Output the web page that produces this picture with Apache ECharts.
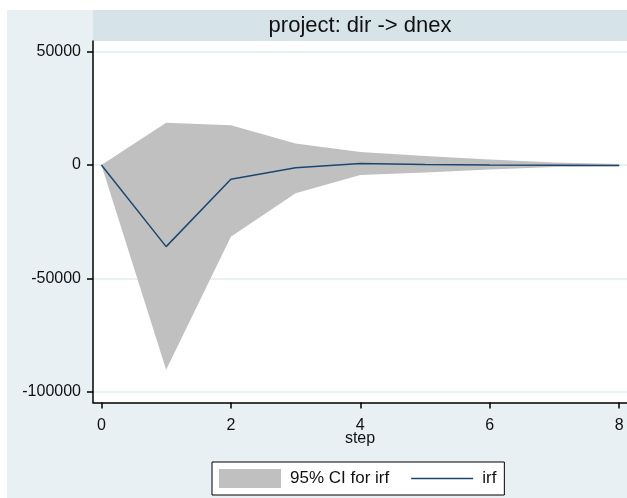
<!DOCTYPE html>
<html>
<head>
<meta charset="utf-8">
<script src="https://cdn.jsdelivr.net/npm/echarts@6/dist/echarts.min.js"></script>
<style>
    html, body { margin: 0; padding: 0; background: #fff; }
    #chart { width: 627px; height: 498px; }
</style>
</head>
<body>
<div id="chart"></div>
<script>
// irf 图数据 (dir -> dnex)
const steps = [0, 1, 2, 3, 4, 5, 6, 7, 8]
const irf = [0, -36000, -6300, -1200, 700, 200, 0, -100, -200]
const ciUpper = [0, 18600, 17500, 9500, 5700, 4000, 2400, 1100, 400]
const ciLower = [0, -90300, -31600, -12500, -4400, -3300, -2000, -900, -500]
const yTicks = [-100000, -50000, 0, 50000]
const xTicks = [0, 2, 4, 6, 8]

const font = 'Liberation Sans, Arial, sans-serif'
const chart = echarts.init(document.getElementById('chart'))

const option = {
    backgroundColor: '#fff',
    animation: false,
    graphic: [
        { type: 'rect', z: -10, shape: { x: 7, y: 10, width: 620, height: 488 }, style: { fill: '#e8f0f3' } },
        { type: 'rect', z: -9, shape: { x: 93, y: 10, width: 534, height: 31 }, style: { fill: '#d6e4ea' } },
        {
            type: 'text', z: 10, x: 360, y: 26,
            style: { text: 'project: dir -> dnex', font: '22px ' + font, fill: '#111', align: 'center', verticalAlign: 'middle' }
        }
    ],
    grid: {
        left: 93,
        top: 41,
        right: 0,
        bottom: 95.5,
        show: true,
        backgroundColor: '#fff',
        borderWidth: 0
    },
    legend: {
        left: 212,
        top: 462,
        padding: [7, 8, 7, 7],
        backgroundColor: '#fff',
        borderColor: '#000',
        borderWidth: 1,
        borderRadius: 0,
        itemWidth: 62,
        itemHeight: 19,
        itemGap: 22,
        symbolKeepAspect: true,
        textStyle: { fontFamily: font, fontSize: 17, color: '#111', padding: [0, 0, 0, 4] },
        data: [
            { name: '95% CI for irf', icon: 'rect', itemStyle: { color: '#c0c0c0' } },
            { name: 'irf', icon: 'path://M0,0L62,0L62,1.6L0,1.6Z', itemStyle: { color: '#1a476f' } }
        ]
    },
    xAxis: {
        type: 'value',
        min: -0.13,
        max: 8.12,
        name: 'step',
        nameLocation: 'middle',
        nameGap: 28,
        nameMoveOverlap: false,
        nameTextStyle: { fontFamily: font, fontSize: 16, color: '#111' },
        axisLine: { show: true, onZero: false, lineStyle: { color: '#000', width: 1.5 } },
        axisTick: { show: true, length: 6, customValues: xTicks, lineStyle: { color: '#000', width: 1.5 } },
        axisLabel: { customValues: xTicks, fontFamily: font, fontSize: 16, color: '#111', margin: 15 },
        splitLine: { show: false }
    },
    yAxis: {
        type: 'value',
        min: -104770,
        max: 54700,
        axisLine: { show: true, onZero: false, lineStyle: { color: '#000', width: 1.5 } },
        axisTick: { show: true, length: 6, customValues: yTicks, lineStyle: { color: '#000', width: 1.5 } },
        axisLabel: {
            customValues: yTicks,
            fontFamily: font,
            fontSize: 16,
            color: '#111',
            margin: 12,
            formatter: v => String(v)
        },
        splitLine: { show: false }
    },
    series: [
        {
            // 网格线
            name: 'grid',
            type: 'line',
            data: [],
            z: 0,
            silent: true,
            markLine: {
                z: 0,
                silent: true,
                symbol: 'none',
                label: { show: false },
                lineStyle: { color: '#e3edf2', width: 1.5, type: 'solid' },
                data: yTicks.map(v => ({ yAxis: v }))
            }
        },
        {
            name: '95% CI for irf',
            type: 'custom',
            z: 2,
            itemStyle: { color: '#c0c0c0' },
            data: steps.map((s, i) => [s, ciUpper[i], ciLower[i]]),
            renderItem: (params, api) => {
                if (params.dataIndex !== 0) return
                const pts = []
                steps.forEach((s, i) => pts.push(api.coord([s, ciUpper[i]])))
                for (let i = steps.length - 1; i >= 0; i--) {
                    pts.push(api.coord([steps[i], ciLower[i]]))
                }
                return {
                    type: 'polygon',
                    shape: { points: pts },
                    style: { fill: '#c0c0c0' }
                }
            }
        },
        {
            name: 'irf',
            type: 'line',
            z: 3,
            symbol: 'none',
            data: steps.map((s, i) => [s, irf[i]]),
            lineStyle: { color: '#1a476f', width: 1.5 },
            itemStyle: { color: '#1a476f' }
        }
    ]
}

chart.setOption(option)
</script>
</body>
</html>
